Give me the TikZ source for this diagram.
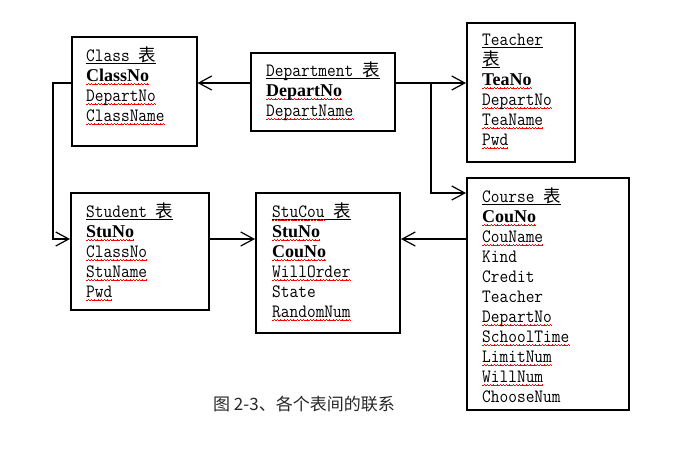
\documentclass[tikz,border=0pt]{standalone}
\usepackage{fontspec}
\setmainfont{Liberation Serif}
\newfontfamily\mono[FakeStretch=0.9]{Latin Modern Mono}
\newfontfamily\cjk{Noto Sans CJK SC}
\usetikzlibrary{arrows.meta}
\newsavebox\wavebox
\newsavebox\rwbox
\newsavebox\ulbox
\newcommand\rw[1]{\sbox\rwbox{#1}\rlap{\raisebox{-4.2pt}[0pt][0pt]{\hbox to \wd\rwbox{\xleaders\copy\wavebox\hfill}}}\usebox\rwbox}
\newcommand\ul[1]{\sbox\ulbox{#1}\rlap{\raisebox{-2.6pt}[0pt][0pt]{\rule{\wd\ulbox}{0.9pt}}}\usebox\ulbox}
\newcommand\bz{{\cjk\fontsize{17.5}{20}\selectfont 表}}
\newcommand\kf[1]{{\normalfont\bfseries\fontsize{18}{20}\selectfont\rw{#1}}}
\newcommand\fldfont{\mono\fontsize{18.8}{20}\selectfont}
\tikzset{
  tbl/.style={draw, line width=2pt, inner sep=0pt},
  fld/.style={anchor=base west, inner sep=0pt, align=left, font=\fldfont},
  arr/.style={-{Straight Barb[length=13pt,width=14pt]}, line width=1.2pt},
}
\begin{document}
\sbox\wavebox{\color{red}\rule[0pt]{0.8pt}{0.8pt}\rule[0.7pt]{0.8pt}{0.8pt}\rule[1.4pt]{0.8pt}{0.8pt}\rule[0.7pt]{0.8pt}{0.8pt}}%
\begin{tikzpicture}[x=1pt,y=-1pt]
\useasboundingbox (0,0) rectangle (677,463);
% boxes
\node[tbl, minimum width=125pt, minimum height=109pt] (class) at (134,91) {};
\node[tbl, minimum width=144pt, minimum height=78pt] (dept) at (323,92) {};
\node[tbl, minimum width=108pt, minimum height=139pt] (teacher) at (521,92) {};
\node[tbl, minimum width=162pt, minimum height=232pt] (course) at (548,294) {};
\node[tbl, minimum width=138pt, minimum height=117pt] (student) at (140,251.5) {};
\node[tbl, minimum width=144pt, minimum height=140pt] (stucou) at (328,263) {};
% fields (anchored at the baseline of their last line)
\node[fld] (classf) at (86,121) {\ul{Class \bz}\\ \kf{ClassNo}\\ \rw{DepartNo}\\ \rw{ClassName}};
\node[fld] (deptf) at (266,116) {\ul{Department \bz}\\ \kf{DepartNo}\\ \rw{DepartName}};
\node[fld] (teacherf) at (482,145) {\ul{Teacher}\\ \ul{\bz}\\ \kf{TeaNo}\\ \rw{DepartNo}\\ \rw{TeaName}\\ \rw{Pwd}};
\node[fld] (studentf) at (86,297) {\ul{Student \bz}\\ \kf{StuNo}\\ \rw{ClassNo}\\ \rw{StuName}\\ \rw{Pwd}};
\node[fld] (stucouf) at (272,317) {\ul{\rw{StuCou} \bz}\\ \kf{StuNo}\\ \kf{CouNo}\\ \rw{WillOrder}\\ State\\ \rw{RandomNum}};
\node[fld] (coursef) at (482,402) {\ul{Course \bz}\\ \kf{CouNo}\\ \rw{CouName}\\ Kind\\ Credit\\ Teacher\\ \rw{DepartNo}\\ \rw{SchoolTime}\\ \rw{LimitNum}\\ \rw{WillNum}\\ ChooseNum};
% caption
\node[anchor=base west, inner sep=0pt, font=\cjk\fontsize{17}{20}\selectfont, text=black!85] (cap) at (213,410) {图 2-3、各个表间的联系};
% connector helpers
\coordinate (yA) at (0,83);
\coordinate (yB) at (0,193);
\coordinate (yC) at (0,239);
\coordinate (xJ) at (431,0);
\coordinate (xL) at (53,0);
% connectors
\draw[arr] (dept.west |- yA) -- (class.east |- yA);
\draw[arr] (dept.east |- yA) -- (teacher.west |- yA);
\draw[arr] (xJ |- yA) -- (xJ |- yB) -- (course.west |- yB);
\draw[arr] (class.west |- yA) -- (xL |- yA) -- (xL |- yC) -- (student.west |- yC);
\draw[arr] (student.east |- yC) -- (stucou.west |- yC);
\draw[arr] (course.west |- yC) -- (stucou.east |- yC);
\end{tikzpicture}
\end{document}
